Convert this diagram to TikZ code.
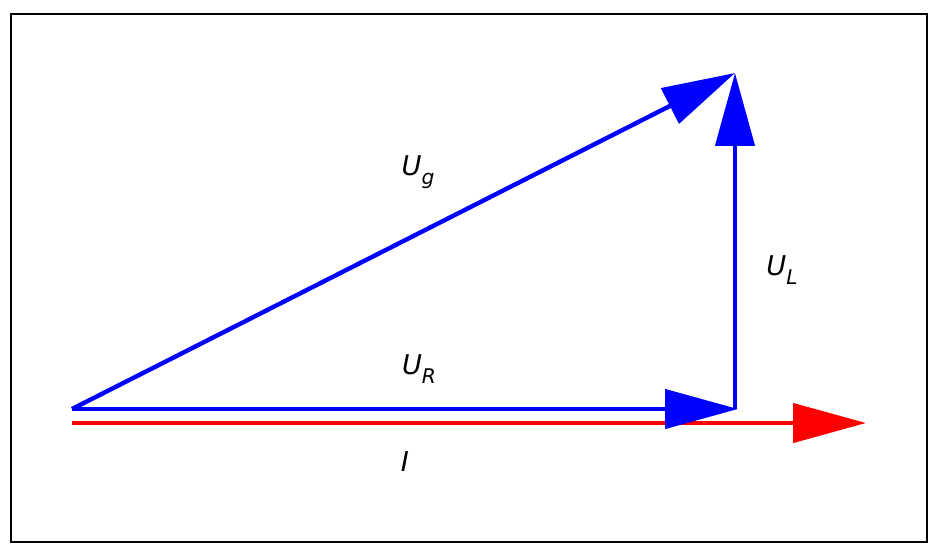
\documentclass[tikz,border=0pt]{standalone}
\usepackage{fontspec}
\usepackage{tikz}
\usetikzlibrary{arrows.meta}
\usetikzlibrary{positioning}
\newfontfamily\phasorfont{DejaVu Sans}
\newcommand{\phasorlabel}[2]{%
  \phasorfont\itshape #1\raisebox{-0.32em}{\fontsize{11.5}{11.5}\selectfont\itshape #2}%
}
\tikzset{
    phasor/.style={
      line width=2.5pt,
      -{Triangle[length=1.46cm, width=0.78cm]},
    },
    label/.style={
      inner sep=0pt,
      font=\fontsize{15.5}{18}\selectfont,
    },
}

\begin{document}
\begin{tikzpicture}[x=0.02cm, y=-0.02cm]

    \useasboundingbox (0,0) rectangle (941,555);
    \draw[line width=1.1pt] (11,14) rectangle (927,542);

    \coordinate (O) at (72,409);
    \coordinate (IO) at (72,423);
    \coordinate (R) at (738,409);
    \coordinate (C) at (735,409);
    \coordinate (T) at (735,73);
    \coordinate (IE) at (866,423);

    \draw[phasor, red] (IO) -- (IE);
    \draw[phasor, blue] (O) -- (R);
    \draw[phasor, blue] (C) -- (T);
    \draw[phasor, blue] (O) -- (T);

    \node[label] (UG) at (418,172) {\phasorlabel{U}{g}};
    \node[label] (UL) at (782,270) {\phasorlabel{U}{L}};
    \node[label] (UR) at (419,369) {\phasorlabel{U}{R}};
    \node[label] (II) at (405,466) {\phasorlabel{I}{}};

  \end{tikzpicture}
\end{document}
